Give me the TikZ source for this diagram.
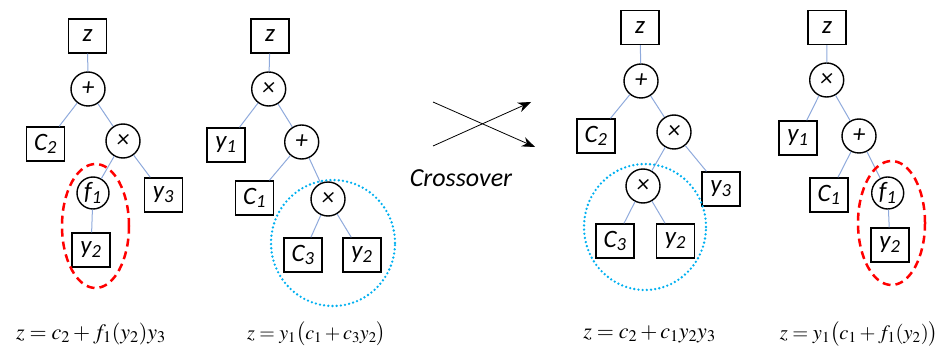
\documentclass[tikz,border=0pt]{standalone}
\usepackage{mathptmx}
\usepackage{fontspec}
\setsansfont{Carlito}
\usetikzlibrary{arrows.meta}
\definecolor{edgeblue}{RGB}{143,170,220}
\definecolor{dotblue}{RGB}{0,176,240}
\newcommand\sbs[1]{\textsubscript{#1}}
\tikzset{
  leaf/.style={draw, line width=1.4pt, minimum width=38pt, minimum height=34pt, inner sep=0pt,
    font=\fontsize{25}{30}\selectfont\sffamily\itshape},
  op/.style={draw, circle, line width=1.4pt, minimum size=34pt, inner sep=0pt,
    font=\fontsize{25}{30}\selectfont\sffamily\itshape},
  edge/.style={draw=edgeblue, line width=1pt},
  redring/.style={draw=red, line width=2.5pt, dash pattern=on 8pt off 5pt},
  bluering/.style={draw=dotblue, line width=2.6pt, line cap=round, dash pattern=on 0pt off 4.2pt},
  xarrow/.style={line width=0.8pt, -{Stealth[length=13pt, width=10pt]}},
  formula/.style={inner sep=0pt, anchor=center},
}
\begin{document}
\begin{tikzpicture}[x=1pt, y=-1pt]
\useasboundingbox (0,0) rectangle (941,347);
% ---------- Tree 1 ----------
\node[leaf] (a-z) at (87.5,36) {z};
\node[op] (a-plus) at (88,89) {+};
\node[leaf] (a-c2) at (45.5,144) {C\sbs{2}};
\node[op] (a-times) at (123,141) {×};
\node[op, minimum size=32pt] (a-f1) at (93,193) {f\sbs{1}};
\node[leaf] (a-y3) at (163.5,195) {y\sbs{3}};
\node[leaf] (a-y2) at (91,250) {y\sbs{2}};
\draw[edge] (a-z) -- (a-plus);
\draw[edge] (a-plus) -- (a-c2);
\draw[edge] (a-plus) -- (a-times);
\draw[edge] (a-times) -- (a-f1);
\draw[edge] (a-times) -- (a-y3);
\draw[edge] (a-f1) -- (a-y2);
\draw[redring] (95.5,226) ellipse [x radius=33.5pt, y radius=62pt];
% ---------- Tree 2 ----------
\node[leaf] (b-z) at (270,36) {z};
\node[op] (b-times) at (268.7,89) {×};
\node[leaf] (b-y1) at (226,145) {y\sbs{1}};
\node[op] (b-plus) at (301.7,142) {+};
\node[leaf] (b-c1) at (254.5,198) {C\sbs{1}};
\node[op] (b-times2) at (328,199) {×};
\node[leaf] (b-c3) at (303,255) {C\sbs{3}};
\node[leaf] (b-y2) at (362,255) {y\sbs{2}};
\draw[edge] (b-z) -- (b-times);
\draw[edge] (b-times) -- (b-y1);
\draw[edge] (b-times) -- (b-plus);
\draw[edge] (b-plus) -- (b-c1);
\draw[edge] (b-plus) -- (b-times2);
\draw[edge] (b-times2) -- (b-c3);
\draw[edge] (b-times2) -- (b-y2);
\draw[bluering] (333,243) ellipse [x radius=62pt, y radius=63pt];
% ---------- Crossover ----------
\coordinate (x1s) at (433,102);
\coordinate (x1e) at (535,147);
\coordinate (x2s) at (433,146);
\coordinate (x2e) at (531,102);
\draw[xarrow] (x1s) -- (x1e);
\draw[xarrow] (x2s) -- (x2e);
\node[font=\fontsize{26}{30}\selectfont\sffamily\itshape, inner sep=0pt] (cross) at (461,178) {Crossover};
% ---------- Tree 3 ----------
\node[leaf] (c-z) at (640,27.5) {z};
\node[op] (c-plus) at (641,81) {+};
\node[leaf] (c-c2) at (596,136) {C\sbs{2}};
\node[op] (c-times) at (674,132) {×};
\node[op] (c-times2) at (643,186) {×};
\node[leaf] (c-y3) at (721,189) {y\sbs{3}};
\node[leaf] (c-c3) at (615,241) {C\sbs{3}};
\node[leaf] (c-y2) at (675.5,241) {y\sbs{2}};
\draw[edge] (c-z) -- (c-plus);
\draw[edge] (c-plus) -- (c-c2);
\draw[edge] (c-plus) -- (c-times);
\draw[edge] (c-times) -- (c-times2);
\draw[edge] (c-times) -- (c-y3);
\draw[edge] (c-times2) -- (c-c3);
\draw[edge] (c-times2) -- (c-y2);
\draw[bluering] (645,227) ellipse [x radius=61pt, y radius=63pt];
% ---------- Tree 4 ----------
\node[leaf] (d-z) at (827,27.5) {z};
\node[op] (d-times) at (826.7,80) {×};
\node[leaf] (d-y1) at (798,138) {y\sbs{1}};
\node[op] (d-plus) at (859,136) {+};
\node[leaf] (d-c1) at (829,195) {C\sbs{1}};
\node[op, minimum size=32pt] (d-f1) at (887.7,193) {f\sbs{1}};
\node[leaf] (d-y2) at (890,245) {y\sbs{2}};
\draw[edge] (d-z) -- (d-times);
\draw[edge] (d-times) -- (d-y1);
\draw[edge] (d-times) -- (d-plus);
\draw[edge] (d-plus) -- (d-c1);
\draw[edge] (d-plus) -- (d-f1);
\draw[edge] (d-f1) -- (d-y2);
\draw[redring] (891.5,223) ellipse [x radius=33.5pt, y radius=62pt];
% ---------- Formulas ----------
\node[formula, font=\fontsize{22}{26}\selectfont] (f-a) at (91,334) {$z = c_2 + f_1(y_2)y_3$};
\node[formula, font=\fontsize{20}{24}\selectfont] (f-b) at (316.5,334) {$z = y_1\bigl(c_1 + c_3y_2\bigr)$};
\node[formula, font=\fontsize{22}{26}\selectfont] (f-c) at (649.5,334) {$z = c_2 + c_1y_2y_3$};
\node[formula, font=\fontsize{20.5}{24}\selectfont] (f-d) at (859,334) {$z = y_1\bigl(c_1 + f_1(y_2)\bigr)$};
\end{tikzpicture}
\end{document}
